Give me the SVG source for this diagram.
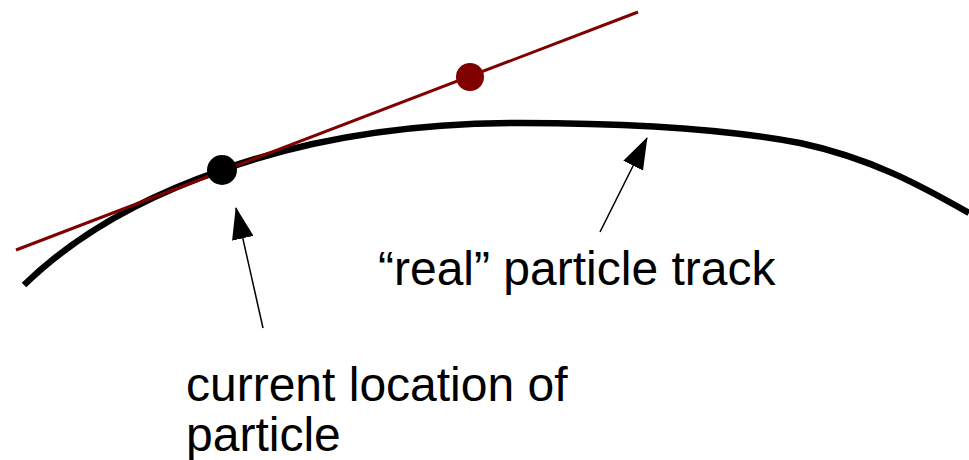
<svg xmlns="http://www.w3.org/2000/svg" width="969" height="460" viewBox="0 0 969 460">
<defs>
<style>
.lbl{font-family:"Liberation Sans",Arial,sans-serif;font-size:48px;fill:#000}
.ptr{stroke:#000;stroke-width:1.5;fill:none}
</style>
<marker id="ah" viewBox="0 0 32 22" refX="31" refY="11" markerWidth="32" markerHeight="22" markerUnits="userSpaceOnUse" orient="auto">
<path d="M0,0 L32,11 L0,22 Z" fill="#000"/>
</marker>
</defs>
<rect width="969" height="460" fill="#fff"/>
<g id="track">
<path d="M24,285 C60,250 120,205 222,170 C300,142 400,123 520,123 C620,123 720,128 800,143 C870,158 920,185 969,213" fill="none" stroke="#000" stroke-width="6.5"/>
</g>
<g id="tangent">
<line x1="16" y1="250" x2="638" y2="12" stroke="#800000" stroke-width="3"/>
</g>
<g id="current-point">
<circle cx="222" cy="170" r="15" fill="#000"/>
</g>
<g id="next-point">
<circle cx="470" cy="77" r="14" fill="#800000"/>
</g>
<g id="connectors">
<line class="ptr" x1="263" y1="328" x2="236" y2="208" marker-end="url(#ah)"/>
<line class="ptr" x1="600" y1="232" x2="647" y2="138" marker-end="url(#ah)"/>
</g>
<g id="label-track">
<text class="lbl" x="378" y="285">“real” particle track</text>
</g>
<g id="label-current">
<text class="lbl" x="186" y="401">current location of</text>
<text class="lbl" x="186" y="451">particle</text>
</g>
</svg>
